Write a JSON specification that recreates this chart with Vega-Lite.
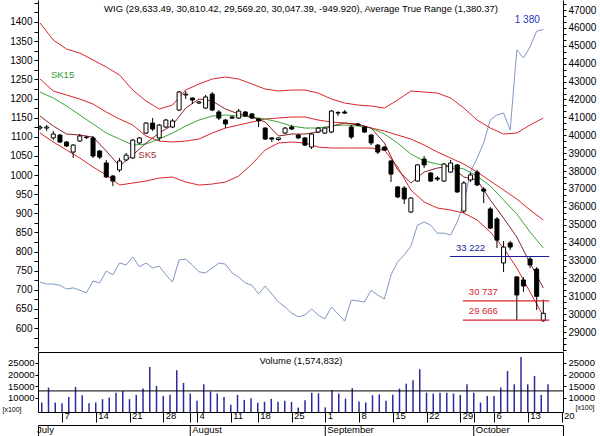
{
  "$schema": "https://vega.github.io/schema/vega-lite/v6.json",
  "padding": 0,
  "spacing": 0,
  "background": "white",
  "config": {
    "view": {"stroke": null},
    "font": "Liberation Sans",
    "axis": {"domainColor": "black", "tickColor": "black", "labelColor": "black", "grid": false, "labelFont": "Liberation Sans", "titleFont": "Liberation Sans"}
  },
  "datasets": {
    "ohlc": [
      {"i":0,"o":40400,"h":40570,"l":40290,"c":40460,"vol":9000,"atr":720},
      {"i":1,"o":40400,"h":40570,"l":40240,"c":40460,"vol":8050,"atr":715},
      {"i":2,"o":39850,"h":40240,"l":39730,"c":40070,"vol":14460,"atr":715},
      {"i":3,"o":40010,"h":40070,"l":39570,"c":39620,"vol":8050,"atr":712},
      {"i":4,"o":39620,"h":39680,"l":39340,"c":39400,"vol":7800,"atr":702},
      {"i":5,"o":39060,"h":39510,"l":38730,"c":39450,"vol":10480,"atr":705},
      {"i":6,"o":39680,"h":40070,"l":39620,"c":39960,"vol":14750,"atr":699},
      {"i":7,"o":39870,"h":39960,"l":39790,"c":39900,"vol":11200,"atr":692},
      {"i":8,"o":39850,"h":39960,"l":38730,"c":38840,"vol":7800,"atr":723},
      {"i":9,"o":39120,"h":39170,"l":38670,"c":38780,"vol":8050,"atr":718},
      {"i":10,"o":38450,"h":38620,"l":37610,"c":37670,"vol":9500,"atr":749},
      {"i":11,"o":37720,"h":37780,"l":37160,"c":37440,"vol":10200,"atr":739},
      {"i":12,"o":38060,"h":38730,"l":37940,"c":38560,"vol":12300,"atr":770},
      {"i":13,"o":38620,"h":39010,"l":38560,"c":38890,"vol":13000,"atr":765},
      {"i":14,"o":38730,"h":39790,"l":38670,"c":39730,"vol":9500,"atr":786},
      {"i":15,"o":39570,"h":39900,"l":39510,"c":39850,"vol":11340,"atr":760},
      {"i":16,"o":40120,"h":40740,"l":40070,"c":40680,"vol":14040,"atr":770},
      {"i":17,"o":40680,"h":40960,"l":40240,"c":40350,"vol":23300,"atr":757},
      {"i":18,"o":39850,"h":40630,"l":39680,"c":40570,"vol":15180,"atr":762},
      {"i":19,"o":40460,"h":40910,"l":40400,"c":40850,"vol":10900,"atr":739},
      {"i":20,"o":40460,"h":40910,"l":40400,"c":40800,"vol":11340,"atr":720},
      {"i":21,"o":41410,"h":42470,"l":41350,"c":42420,"vol":21900,"atr":778},
      {"i":22,"o":42250,"h":42470,"l":42030,"c":42300,"vol":16460,"atr":780},
      {"i":23,"o":42080,"h":42110,"l":41750,"c":41970,"vol":11900,"atr":765},
      {"i":24,"o":41800,"h":41910,"l":41750,"c":41860,"vol":8770,"atr":747},
      {"i":25,"o":41520,"h":42250,"l":41470,"c":42140,"vol":15900,"atr":744},
      {"i":26,"o":42300,"h":42420,"l":41350,"c":41410,"vol":12750,"atr":757},
      {"i":27,"o":41300,"h":41410,"l":40850,"c":40960,"vol":11900,"atr":770},
      {"i":28,"o":40850,"h":40910,"l":40400,"c":40630,"vol":10480,"atr":767},
      {"i":29,"o":41020,"h":41080,"l":40910,"c":40960,"vol":7070,"atr":744},
      {"i":30,"o":40960,"h":41470,"l":40910,"c":41350,"vol":11340,"atr":733},
      {"i":31,"o":41300,"h":41350,"l":41020,"c":41080,"vol":9200,"atr":718},
      {"i":32,"o":41190,"h":41240,"l":40910,"c":40960,"vol":9930,"atr":712},
      {"i":33,"o":40910,"h":40960,"l":40460,"c":40800,"vol":7920,"atr":689},
      {"i":34,"o":40400,"h":40460,"l":39730,"c":39790,"vol":8350,"atr":710},
      {"i":35,"o":39850,"h":39870,"l":39620,"c":39790,"vol":9630,"atr":689},
      {"i":36,"o":39760,"h":39870,"l":39680,"c":39850,"vol":8350,"atr":668},
      {"i":37,"o":40120,"h":40460,"l":40070,"c":40400,"vol":8770,"atr":655},
      {"i":38,"o":40460,"h":40570,"l":40290,"c":40350,"vol":8300,"atr":639},
      {"i":39,"o":40010,"h":40070,"l":39790,"c":39850,"vol":5900,"atr":629},
      {"i":40,"o":39850,"h":39900,"l":39400,"c":39450,"vol":9070,"atr":634},
      {"i":41,"o":39340,"h":40120,"l":39230,"c":40070,"vol":12300,"atr":650},
      {"i":42,"o":40180,"h":40460,"l":40120,"c":40400,"vol":12000,"atr":634},
      {"i":43,"o":40120,"h":40460,"l":40070,"c":40400,"vol":6000,"atr":624},
      {"i":44,"o":40180,"h":41410,"l":40120,"c":41350,"vol":13340,"atr":655},
      {"i":45,"o":41240,"h":41350,"l":41080,"c":41270,"vol":11900,"atr":637},
      {"i":46,"o":41300,"h":41410,"l":41190,"c":41240,"vol":9700,"atr":618},
      {"i":47,"o":40460,"h":40570,"l":39790,"c":39900,"vol":14200,"atr":673},
      {"i":48,"o":40630,"h":40680,"l":40520,"c":40570,"vol":8550,"atr":671},
      {"i":49,"o":40460,"h":40520,"l":40120,"c":40180,"vol":8050,"atr":668},
      {"i":50,"o":40010,"h":40070,"l":39450,"c":39570,"vol":11200,"atr":699},
      {"i":51,"o":39450,"h":39510,"l":38950,"c":39060,"vol":11550,"atr":686},
      {"i":52,"o":39340,"h":39400,"l":39120,"c":39170,"vol":8770,"atr":676},
      {"i":53,"o":38560,"h":38620,"l":37390,"c":37830,"vol":11340,"atr":739},
      {"i":54,"o":37110,"h":37160,"l":36490,"c":36550,"vol":14040,"atr":773},
      {"i":55,"o":37050,"h":37160,"l":36160,"c":36440,"vol":16160,"atr":791},
      {"i":56,"o":35710,"h":36550,"l":35650,"c":36490,"vol":17600,"atr":814},
      {"i":57,"o":37440,"h":38390,"l":37390,"c":38340,"vol":22300,"atr":869},
      {"i":58,"o":38670,"h":38840,"l":38170,"c":38340,"vol":12300,"atr":877},
      {"i":59,"o":37890,"h":37940,"l":37390,"c":37440,"vol":11900,"atr":869},
      {"i":60,"o":37610,"h":37720,"l":37440,"c":37550,"vol":12300,"atr":848},
      {"i":61,"o":37440,"h":38450,"l":37390,"c":38390,"vol":12300,"atr":848},
      {"i":62,"o":37940,"h":38620,"l":37890,"c":38450,"vol":11900,"atr":843},
      {"i":63,"o":38340,"h":38390,"l":36770,"c":36830,"vol":11340,"atr":877},
      {"i":64,"o":35760,"h":37440,"l":35650,"c":37330,"vol":15900,"atr":927},
      {"i":65,"o":37500,"h":37890,"l":37390,"c":37780,"vol":12300,"atr":1008},
      {"i":66,"o":37940,"h":38060,"l":37160,"c":37220,"vol":8050,"atr":1044},
      {"i":67,"o":36990,"h":37110,"l":36210,"c":36880,"vol":10900,"atr":1084},
      {"i":68,"o":35880,"h":35990,"l":34760,"c":34810,"vol":10900,"atr":1144},
      {"i":69,"o":35320,"h":35430,"l":33700,"c":34140,"vol":14460,"atr":1157},
      {"i":70,"o":32860,"h":34090,"l":32350,"c":33750,"vol":21600,"atr":1162},
      {"i":71,"o":33980,"h":34090,"l":33580,"c":33750,"vol":15900,"atr":1118},
      {"i":72,"o":32080,"h":32130,"l":29670,"c":31070,"vol":27560,"atr":1327},
      {"i":73,"o":31910,"h":32080,"l":31240,"c":31570,"vol":15900,"atr":1306},
      {"i":74,"o":33080,"h":33222,"l":32580,"c":32750,"vol":19450,"atr":1335},
      {"i":75,"o":32520,"h":32630,"l":30230,"c":30997.31,"vol":11340,"atr":1376},
      {"i":76,"o":29633.49,"h":30810.42,"l":29569.2,"c":30047.39,"vol":15900,"atr":1380.37}
    ],
    "bands": [
      {"i":0,"upper":46273,"mid":43143,"lower":40124,"sk15":42416,"sk5":41075},
      {"i":2,"upper":45323,"mid":42472,"lower":39621,"sk15":42081,"sk5":40516},
      {"i":4,"upper":44820,"mid":42249,"lower":39174,"sk15":41634,"sk5":40068},
      {"i":6,"upper":44596,"mid":42025,"lower":38727,"sk15":41131,"sk5":40012},
      {"i":8,"upper":44205,"mid":41745,"lower":38224,"sk15":40627,"sk5":39901},
      {"i":10,"upper":43814,"mid":41298,"lower":37776,"sk15":40124,"sk5":39118},
      {"i":12,"upper":43366,"mid":40907,"lower":37217,"sk15":39789,"sk5":38280},
      {"i":14,"upper":42528,"mid":40571,"lower":37329,"sk15":39453,"sk5":38894},
      {"i":16,"upper":41913,"mid":39957,"lower":37441,"sk15":39509,"sk5":39565},
      {"i":18,"upper":41466,"mid":39677,"lower":37609,"sk15":39789,"sk5":40124},
      {"i":20,"upper":41689,"mid":39621,"lower":37665,"sk15":40124,"sk5":40571},
      {"i":22,"upper":42528,"mid":39677,"lower":37385,"sk15":40516,"sk5":41522},
      {"i":24,"upper":42863,"mid":39789,"lower":37217,"sk15":40851,"sk5":42025},
      {"i":26,"upper":43143,"mid":40124,"lower":37273,"sk15":41075,"sk5":41913},
      {"i":28,"upper":43255,"mid":40404,"lower":37385,"sk15":41131,"sk5":41466},
      {"i":30,"upper":43143,"mid":40571,"lower":37721,"sk15":41075,"sk5":41186},
      {"i":32,"upper":42863,"mid":40739,"lower":38392,"sk15":41019,"sk5":41019},
      {"i":34,"upper":42584,"mid":40907,"lower":39174,"sk15":40907,"sk5":40739},
      {"i":36,"upper":42472,"mid":40963,"lower":39565,"sk15":40739,"sk5":39957},
      {"i":38,"upper":42528,"mid":41019,"lower":39621,"sk15":40516,"sk5":40068},
      {"i":40,"upper":42528,"mid":41019,"lower":39565,"sk15":40404,"sk5":40068},
      {"i":42,"upper":42360,"mid":40851,"lower":39342,"sk15":40404,"sk5":40180},
      {"i":44,"upper":42025,"mid":40739,"lower":39286,"sk15":40516,"sk5":40516},
      {"i":46,"upper":41801,"mid":40683,"lower":39286,"sk15":40571,"sk5":40683},
      {"i":48,"upper":41689,"mid":40571,"lower":39286,"sk15":40516,"sk5":40627},
      {"i":50,"upper":41634,"mid":40404,"lower":39286,"sk15":40404,"sk5":40404},
      {"i":52,"upper":41522,"mid":40236,"lower":39174,"sk15":40068,"sk5":39565},
      {"i":54,"upper":41969,"mid":40012,"lower":38224,"sk15":39565,"sk5":38056},
      {"i":56,"upper":42472,"mid":39789,"lower":36938,"sk15":38950,"sk5":37329},
      {"i":58,"upper":42416,"mid":39453,"lower":36267,"sk15":38559,"sk5":37944},
      {"i":60,"upper":42360,"mid":39062,"lower":35932,"sk15":38391,"sk5":38168},
      {"i":62,"upper":42081,"mid":38727,"lower":35820,"sk15":38279,"sk5":38279},
      {"i":64,"upper":41522,"mid":38391,"lower":35652,"sk15":38112,"sk5":37665},
      {"i":66,"upper":40851,"mid":37944,"lower":35261,"sk15":37721,"sk5":37497},
      {"i":68,"upper":40404,"mid":37441,"lower":34590,"sk15":37162,"sk5":36379},
      {"i":70,"upper":40068,"mid":36938,"lower":33696,"sk15":36379,"sk5":35373},
      {"i":72,"upper":40124,"mid":36435,"lower":32578,"sk15":35596,"sk5":34310},
      {"i":74,"upper":40571,"mid":35820,"lower":31236,"sk15":34590,"sk5":32857},
      {"i":76,"upper":40963,"mid":35261,"lower":29895,"sk15":33696,"sk5":31460}
    ],
    "levels": [
      {"level":33222,"label":"33 222","from":61.9,"to":76.9,"kind":"res"},
      {"level":30737,"label":"30 737","from":63.85,"to":76.9,"kind":"sup"},
      {"level":29666,"label":"29 666","from":63.85,"to":76.9,"kind":"sup"}
    ],
    "months": [
      {"i":0,"name":"July"},
      {"i":23,"name":"August"},
      {"i":43,"name":"September"},
      {"i":65,"name":"October"}
    ]
  },
  "vconcat": [
    {
      "width": 525,
      "height": 351,
      "resolve": {"scale": {"y": "independent"}, "axis": {"y": "independent"}},
      "layer": [
        {
          "resolve": {"axis": {"y": "independent"}},
          "layer": [
            {
              "data": {"name": "ohlc"},
              "mark": {"type": "line", "color": "#7d97c6", "strokeWidth": 1, "clip": true},
              "encoding": {
                "x": {"field": "i", "type": "quantitative", "scale": {"domain": [0.444, 78.22], "nice": false, "zero": false}, "axis": null},
                "y": {"field": "atr", "type": "quantitative", "scale": {"domain": [540, 1457.5], "nice": false, "zero": false},
                  "axis": {"orient": "left", "title": null, "values": [600,650,700,750,800,850,900,950,1000,1050,1100,1150,1200,1250,1300,1350,1400],
                    "format": "d", "tickSize": 4, "labelPadding": 2, "labelFontSize": 10, "labelFlush": false, "minExtent": 37, "maxExtent": 37}}
              }
            },
            {
              "data": {"values": [{"i": 76, "atr": 1380.37, "label": "1 380"}]},
              "mark": {"type": "text", "color": "#2433c2", "fontSize": 10, "dx": -16, "dy": -10},
              "encoding": {
                "x": {"field": "i", "type": "quantitative", "scale": {"domain": [0.444, 78.22], "nice": false, "zero": false}, "axis": null},
                "y": {"field": "atr", "type": "quantitative", "scale": {"domain": [540, 1457.5], "nice": false, "zero": false},
                  "axis": {"orient": "left", "title": null, "labels": false, "domain": false, "tickSize": 4,
                    "values": [550,575,625,675,725,775,825,875,925,975,1025,1075,1125,1175,1225,1275,1325,1375,1425,1450]}},
                "text": {"field": "label"}
              }
            }
          ]
        },
        {
          "resolve": {"axis": {"y": "independent"}},
          "layer": [
            {
              "data": {"name": "bands"},
              "mark": {"type": "line", "color": "#d8262a", "strokeWidth": 1, "clip": true},
              "encoding": {
                "x": {"field": "i", "type": "quantitative", "scale": {"domain": [0.444, 78.22], "nice": false, "zero": false}, "axis": null},
                "y": {"field": "upper", "type": "quantitative", "scale": {"domain": [27940, 47560], "nice": false, "zero": false},
                  "axis": {"orient": "right", "title": null,
                    "values": [29000,30000,31000,32000,33000,34000,35000,36000,37000,38000,39000,40000,41000,42000,43000,44000,45000,46000,47000],
                    "format": "d", "tickSize": 3, "labelPadding": 2, "labelFontSize": 10, "labelFlush": false, "minExtent": 36, "maxExtent": 36}}
              }
            },
            {
              "data": {"name": "bands"},
              "mark": {"type": "line", "color": "#d8262a", "strokeWidth": 1, "clip": true},
              "encoding": {
                "x": {"field": "i", "type": "quantitative", "scale": {"domain": [0.444, 78.22], "nice": false, "zero": false}, "axis": null},
                "y": {"field": "mid", "type": "quantitative", "scale": {"domain": [27940, 47560], "nice": false, "zero": false},
                  "axis": {"orient": "right", "title": null, "labels": false, "domain": false, "tickSize": 3,
                    "values": [28000,28333.33,28666.67,29333.33,29666.67,30333.33,30666.67,31333.33,31666.67,32333.33,32666.67,33333.33,33666.67,34333.33,34666.67,35333.33,35666.67,36333.33,36666.67,37333.33,37666.67,38333.33,38666.67,39333.33,39666.67,40333.33,40666.67,41333.33,41666.67,42333.33,42666.67,43333.33,43666.67,44333.33,44666.67,45333.33,45666.67,46333.33,46666.67,47333.33]}}
              }
            },
            {
              "data": {"name": "bands"},
              "mark": {"type": "line", "color": "#d8262a", "strokeWidth": 1, "clip": true},
              "encoding": {
                "x": {"field": "i", "type": "quantitative", "scale": {"domain": [0.444, 78.22], "nice": false, "zero": false}, "axis": null},
                "y": {"field": "lower", "type": "quantitative", "axis": null}
              }
            },
            {
              "data": {"name": "bands"},
              "mark": {"type": "line", "color": "#3aa53a", "strokeWidth": 1, "clip": true},
              "encoding": {
                "x": {"field": "i", "type": "quantitative", "scale": {"domain": [0.444, 78.22], "nice": false, "zero": false}, "axis": null},
                "y": {"field": "sk15", "type": "quantitative", "axis": null}
              }
            },
            {
              "data": {"name": "bands"},
              "mark": {"type": "line", "color": "#8e2222", "strokeWidth": 1, "clip": true},
              "encoding": {
                "x": {"field": "i", "type": "quantitative", "scale": {"domain": [0.444, 78.22], "nice": false, "zero": false}, "axis": null},
                "y": {"field": "sk5", "type": "quantitative", "axis": null}
              }
            },
            {
              "data": {"name": "ohlc"},
              "mark": {"type": "rule", "color": "black", "strokeWidth": 1, "clip": true},
              "encoding": {
                "x": {"field": "i", "type": "quantitative", "scale": {"domain": [0.444, 78.22], "nice": false, "zero": false}, "axis": null},
                "y": {"field": "l", "type": "quantitative", "axis": null},
                "y2": {"field": "h"}
              }
            },
            {
              "data": {"name": "ohlc"},
              "mark": {"type": "bar", "width": 4, "stroke": "black", "strokeWidth": 1, "clip": true},
              "encoding": {
                "x": {"field": "i", "type": "quantitative", "scale": {"domain": [0.444, 78.22], "nice": false, "zero": false}, "axis": null},
                "y": {"field": "o", "type": "quantitative", "axis": null},
                "y2": {"field": "c"},
                "fill": {"condition": {"test": "datum.c >= datum.o", "value": "white"}, "value": "black"}
              }
            },
            {
              "data": {"name": "levels"},
              "mark": {"type": "rule", "strokeWidth": 1.2},
              "encoding": {
                "x": {"field": "from", "type": "quantitative", "scale": {"domain": [0.444, 78.22], "nice": false, "zero": false}, "axis": null},
                "x2": {"field": "to"},
                "y": {"field": "level", "type": "quantitative", "axis": null},
                "color": {"field": "kind", "type": "nominal", "scale": {"domain": ["res", "sup"], "range": ["#1c1ca0", "#d8262a"]}, "legend": null}
              }
            },
            {
              "data": {"name": "levels"},
              "mark": {"type": "text", "align": "left", "baseline": "middle", "dx": 6, "dy": -9, "fontSize": 9.5},
              "encoding": {
                "x": {"field": "from", "type": "quantitative", "scale": {"domain": [0.444, 78.22], "nice": false, "zero": false}, "axis": null},
                "y": {"field": "level", "type": "quantitative", "axis": null},
                "text": {"field": "label"},
                "color": {"field": "kind", "type": "nominal", "scale": {"domain": ["res", "sup"], "range": ["#1c1ca0", "#d8262a"]}, "legend": null}
              }
            },
            {
              "data": {"values": [{}]},
              "mark": {"type": "text", "align": "center", "baseline": "middle", "fontSize": 9.5, "color": "black"},
              "encoding": {
                "x": {"datum": 39.4, "type": "quantitative", "scale": {"domain": [0.444, 78.22], "nice": false, "zero": false}, "axis": null},
                "y": {"datum": 47056, "type": "quantitative", "axis": null},
                "text": {"value": "WIG (29,633.49, 30,810.42, 29,569.20, 30,047.39, -949.920), Average True Range (1,380.37)"}
              }
            },
            {
              "data": {"values": [{}]},
              "mark": {"type": "text", "align": "center", "baseline": "middle", "fontSize": 9.5, "color": "#2f9a2f"},
              "encoding": {
                "x": {"datum": 3.4, "type": "quantitative", "scale": {"domain": [0.444, 78.22], "nice": false, "zero": false}, "axis": null},
                "y": {"datum": 43366, "type": "quantitative", "axis": null},
                "text": {"value": "SK15"}
              }
            },
            {
              "data": {"values": [{}]},
              "mark": {"type": "text", "align": "center", "baseline": "middle", "fontSize": 9.5, "color": "#9a2e2e"},
              "encoding": {
                "x": {"datum": 16.2, "type": "quantitative", "scale": {"domain": [0.444, 78.22], "nice": false, "zero": false}, "axis": null},
                "y": {"datum": 38895, "type": "quantitative", "axis": null},
                "text": {"value": "SK5"}
              }
            }
          ]
        }
      ]
    },
    {
      "width": 525,
      "height": 60,
      "view": {"stroke": "black", "strokeWidth": 1},
      "resolve": {"axis": {"y": "independent"}},
      "layer": [
        {
          "data": {"name": "ohlc"},
          "mark": {"type": "rule", "color": "#2a2a9e", "strokeWidth": 1.5, "clip": true},
          "encoding": {
            "x": {"field": "i", "type": "quantitative", "scale": {"domain": [0.444, 78.22], "nice": false, "zero": false},
              "axis": {"orient": "bottom", "title": null, "values": [0,4,9,14,19,23,24,29,33,38,43,48,53,58,63,65,68,73,78],
                "labelExpr": "['1','7','14','21','28','','4','11','18','25','1','8','15','22','29','','6','13','20'][indexof([0,4,9,14,19,23,24,29,33,38,43,48,53,58,63,65,68,73,78], datum.value)]",
                "tickSize": 10, "labelPadding": -12, "labelAlign": "left", "labelBaseline": "top", "labelOffset": 2, "labelFontSize": 9.5,
                "domain": false, "labelOverlap": false, "labelFlush": false, "minExtent": 11, "maxExtent": 11}},
            "y": {"field": "vol", "type": "quantitative", "scale": {"domain": [4000, 29714], "nice": false, "zero": false},
              "axis": {"orient": "left", "values": [10000, 15000, 20000, 25000], "format": "d", "tickSize": 3, "labelPadding": 1, "labelFontSize": 9.5,
                "domain": false, "title": "[x100]", "titleAngle": 0, "titleX": -36, "titleY": 57, "titleAlign": "left", "titleBaseline": "middle",
                "titleFontSize": 7, "titleFontWeight": "normal", "minExtent": 37, "maxExtent": 37}},
            "y2": {"datum": 4000}
          }
        },
        {
          "data": {"values": [{"avg": 13040}]},
          "mark": {"type": "rule", "color": "black", "strokeWidth": 1},
          "encoding": {
            "y": {"field": "avg", "type": "quantitative", "scale": {"domain": [4000, 29714], "nice": false, "zero": false},
              "axis": {"orient": "right", "values": [10000, 15000, 20000, 25000], "format": "d", "tickSize": 3, "labelPadding": 2, "labelFontSize": 9.5,
                "domain": false, "title": "[x100]", "titleAngle": 0, "titleX": 12, "titleY": 55, "titleAlign": "left", "titleBaseline": "middle",
                "titleFontSize": 7, "titleFontWeight": "normal", "minExtent": 36, "maxExtent": 36}}
          }
        },
        {
          "data": {"values": [{}]},
          "mark": {"type": "text", "align": "center", "baseline": "middle", "fontSize": 9.5, "color": "black"},
          "encoding": {
            "x": {"datum": 39.4, "type": "quantitative", "scale": {"domain": [0.444, 78.22], "nice": false, "zero": false},
              "axis": {"orient": "bottom", "title": null, "values": [0,4,9,14,19,23,24,29,33,38,43,48,53,58,63,65,68,73,78],
                "labelExpr": "['1','7','14','21','28','','4','11','18','25','1','8','15','22','29','','6','13','20'][indexof([0,4,9,14,19,23,24,29,33,38,43,48,53,58,63,65,68,73,78], datum.value)]",
                "tickSize": 10, "labelPadding": -12, "labelAlign": "left", "labelBaseline": "top", "labelOffset": 2, "labelFontSize": 9.5,
                "domain": false, "labelOverlap": false, "labelFlush": false, "minExtent": 11, "maxExtent": 11}},
            "y": {"datum": 25857, "type": "quantitative", "scale": {"domain": [4000, 29714], "nice": false, "zero": false}, "axis": null},
            "text": {"value": "Volume (1,574,832)"}
          }
        }
      ]
    },
    {
      "width": 525,
      "height": 12,
      "view": {"stroke": "black", "strokeWidth": 1},
      "data": {"name": "months"},
      "layer": [
        {
          "mark": {"type": "rule", "color": "black", "strokeWidth": 1, "clip": true},
          "encoding": {
            "x": {"field": "i", "type": "quantitative", "scale": {"domain": [0.444, 78.22], "nice": false, "zero": false}, "axis": null}
          }
        },
        {
          "mark": {"type": "text", "align": "left", "baseline": "middle", "dx": 2, "dy": -1, "fontSize": 9.5, "color": "black"},
          "encoding": {
            "x": {"field": "i", "type": "quantitative", "scale": {"domain": [0.444, 78.22], "nice": false, "zero": false}, "axis": null},
            "text": {"field": "name"}
          }
        }
      ]
    }
  ]
}
